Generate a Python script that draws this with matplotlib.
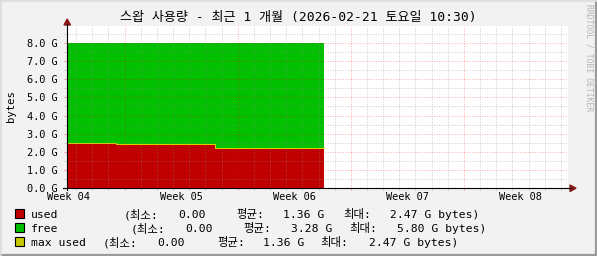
import matplotlib
matplotlib.use("Agg")
import matplotlib.pyplot as plt
from matplotlib.patches import Rectangle, Polygon
from matplotlib.lines import Line2D

plt.rcParams['font.family'] = ['DejaVu Sans Mono', 'Noto Sans CJK KR']

# data (x in days since 2026-01-21 10:30, y in GB)
step_days = [0.0, 3.03, 9.16, 15.88]
used_gb = [2.47, 2.41, 2.20, 2.20]
total_gb = [8.0, 8.0, 8.0, 8.0]
week_labels = ['Week 04', 'Week 05', 'Week 06', 'Week 07', 'Week 08']
week_pos = [0.0625, 7.0625, 14.0625, 21.0625, 28.0625]
title = '스왑 사용량 - 최근 1 개월 (2026-02-21 토요일 10:30)'

legend_labels = ['used', 'free', 'max used']
legend_colors = ['#c00000', '#00c000', '#c8c800']
min_vals = ['0.00', '0.00', '0.00']
avg_vals = ['1.36 G', '3.28 G', '1.36 G']
max_vals = ['2.47 G', '5.80 G', '2.47 G']

W, H = 597, 256
def fx(x): return x / W
def fy(y): return 1 - y / H

fig = plt.figure(figsize=(W / 100, H / 100), dpi=100, facecolor='#f2f2f2')
ax = fig.add_axes([fx(67), fy(188), (568 - 67) / W, (188 - 26) / H])
ax.set_facecolor('white')
ax.set_xlim(0, 31)
ax.set_ylim(0, 8.94)
for s in ax.spines.values():
    s.set_visible(False)

free_top = total_gb
ax.fill_between(step_days, 0, used_gb, step='post', color=legend_colors[0], lw=0, zorder=1)
ax.fill_between(step_days, used_gb, free_top, step='post', color=legend_colors[1], lw=0, zorder=1)
ax.step(step_days, used_gb, where='post', color='#d8d800', lw=0.7, zorder=2)

# grid over the data like rrdtool
gray = (0.55, 0.55, 0.55, 0.45)
red = (1.0, 0.0, 0.0, 0.35)
dots = (0, (1, 1.6))
for k in range(1, 18):
    y = k * 0.5
    ax.axhline(y, color=red if k % 2 == 0 else gray, lw=0.7, ls=dots, zorder=3)
for k in range(31):
    x = 0.5625 + k
    is_major = (k - 3) % 7 == 0
    ax.axvline(x, color=red if is_major else gray, lw=0.7, ls=dots, zorder=3)
    ax.vlines(x, -0.12, 0, color=red if is_major else gray, lw=0.7, clip_on=False)

ax.set_xticks(week_pos)
ax.set_xticklabels(week_labels, fontsize=7.4)
ax.tick_params(axis='x', length=0, pad=3)
ax.set_yticks(range(9))
ax.set_yticklabels(['%d.0 G' % v for v in range(9)], fontsize=7.4)
ax.tick_params(axis='y', length=2, color=red, pad=5)
ax.set_yticks([v + 0.5 for v in range(9)], minor=True)
ax.tick_params(axis='y', which='minor', length=2, color=gray)

# axes with arrows
fig.add_artist(Line2D([fx(67), fx(67)], [fy(190), fy(24)], color='black', lw=0.8))
fig.add_artist(Line2D([fx(63), fx(571)], [fy(188), fy(188)], color='black', lw=0.8))
fig.add_artist(Polygon([[fx(64), fy(25)], [fx(70.5), fy(25)], [fx(67.2), fy(19)]],
                       closed=True, color='#8b1a1a', transform=fig.transFigure))
fig.add_artist(Polygon([[fx(570), fy(185)], [fx(570), fy(191.5)], [fx(576), fy(188.2)]],
                       closed=True, color='#8b1a1a', transform=fig.transFigure))

fig.text(fx(298), fy(18), title, fontsize=9.4, ha='center', va='center')
fig.text(fx(11), fy(106), 'bytes', fontsize=7.6, rotation=90, ha='center', va='center')
fig.text(fx(589), fy(4), 'RRDTOOL / TOBI OETIKER', fontsize=5.8, rotation=270,
         ha='center', va='top', color='#b4b4b4')

# legend rows
cols = [
    [31, 124, 178, 236, 283, 343, 390],
    [31, 131, 185, 243, 291, 349, 397],
    [31, 103, 157, 217, 263, 320, 369],
]
baselines = [218, 232, 246]
for i in range(3):
    b = baselines[i]
    fig.add_artist(Rectangle((fx(15), fy(b)), 9 / W, 9 / H, transform=fig.transFigure,
                             facecolor=legend_colors[i], edgecolor='black', lw=0.8))
    parts = [legend_labels[i], '(최소:', min_vals[i], '평균:', avg_vals[i], '최대:',
             max_vals[i] + ' bytes)']
    for x, s in zip(cols[i], parts):
        fig.text(fx(x), fy(b), s, fontsize=8.2, ha='left', va='baseline')

# 3d border
fig.add_artist(Line2D([0, 1], [fy(254.5), fy(254.5)], color='#9a9a9a', lw=1.6))
fig.add_artist(Line2D([fx(595.5), fx(595.5)], [0, 1], color='#9a9a9a', lw=1.6))
fig.add_artist(Line2D([0, 1], [fy(0.5), fy(0.5)], color='#dcdcdc', lw=1.2))
fig.add_artist(Line2D([fx(0.5), fx(0.5)], [0, 1], color='#dcdcdc', lw=1.2))

fig.savefig('out.png', dpi=100, facecolor=fig.get_facecolor())
